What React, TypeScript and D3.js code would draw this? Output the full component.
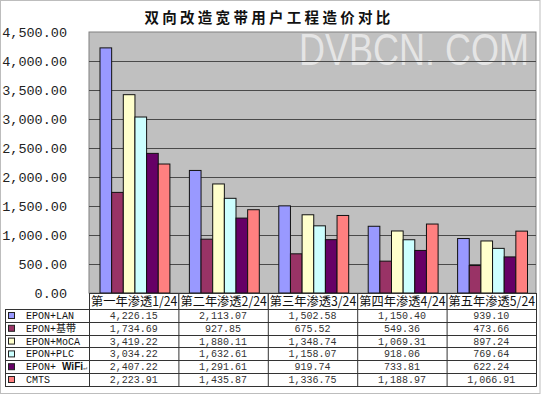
import React, { useEffect, useRef } from "react";
import * as d3 from "d3";

const categories = ["第一年渗透1/24", "第二年渗透2/24", "第三年渗透3/24", "第四年渗透4/24", "第五年渗透5/24"];
const seriesNames = ["EPON+LAN", "EPON+基带", "EPON+MoCA", "EPON+PLC", "EPON+ WiFi", "CMTS"];
const lan = [4226.15, 2113.07, 1502.58, 1150.4, 939.1];
const baseband = [1734.69, 927.85, 675.52, 549.36, 473.66];
const moca = [3419.22, 1880.11, 1348.74, 1069.31, 897.24];
const plc = [3034.22, 1632.61, 1158.07, 918.06, 769.64];
const wifi = [2407.22, 1291.61, 919.74, 733.81, 622.24];
const cmts = [2223.91, 1435.87, 1336.75, 1188.97, 1066.91];
const yTicks = [0, 500, 1000, 1500, 2000, 2500, 3000, 3500, 4000, 4500];
const colors = ["#9999FF", "#993366", "#FFFFCC", "#CCFFFF", "#660066", "#FF8080"];

const series = [lan, baseband, moca, plc, wifi, cmts];

const W = 541;
const H = 394;
const plotLeft = 89;
const plotRight = 536;
const plotTop = 32;
const plotBottom = 293;
const headerBottom = 309;
const rowH = 12.8;
const legendLeft = 5;

const mono = "'Liberation Mono', 'Noto Sans CJK SC', monospace";
const cjk = "'Noto Sans CJK SC', sans-serif";

function App() {
  const ref = useRef<SVGSVGElement>(null);

  useEffect(() => {
    const svg = d3.select(ref.current);
    svg.selectAll("*").remove();

    const x = d3.scaleBand<string>().domain(categories).range([plotLeft, plotRight]).padding(0);
    const inner = d3
      .scaleBand<number>()
      .domain(d3.range(seriesNames.length))
      .range([10.5, x.bandwidth() - 9]);
    const y = d3.scaleLinear().domain([0, 4500]).range([plotBottom, plotTop]);
    const fmt = d3.format(",.2f");

    svg.append("rect").attr("width", W).attr("height", H).attr("fill", "#fff");
    svg
      .append("rect")
      .attr("x", 0.5)
      .attr("y", 0.5)
      .attr("width", W - 1.5)
      .attr("height", H - 1)
      .attr("fill", "none")
      .attr("stroke", "#bdbdbd");

    // title
    svg
      .append("text")
      .text("双向改造宽带用户工程造价对比")
      .attr("x", 269)
      .attr("y", 23)
      .attr("text-anchor", "middle")
      .style("font-family", cjk)
      .style("font-size", "14.5px")
      .style("font-weight", "bold")
      .style("letter-spacing", "3.3px")
      .attr("fill", "#111");

    // plot area
    svg
      .append("rect")
      .attr("x", plotLeft)
      .attr("y", plotTop)
      .attr("width", plotRight - plotLeft)
      .attr("height", plotBottom - plotTop)
      .attr("fill", "#C0C0C0")
      .attr("stroke", "#808080");

    // watermark
    svg
      .append("text")
      .text("DVBCN. COM")
      .attr("x", 299)
      .attr("y", 65)
      .attr("textLength", 230)
      .attr("lengthAdjust", "spacingAndGlyphs")
      .style("font-family", "'Liberation Sans', sans-serif")
      .style("font-size", "44px")
      .attr("fill", "#ffffff")
      .attr("fill-opacity", 0.6);

    // gridlines
    svg
      .append("g")
      .selectAll("line")
      .data(yTicks.filter((t) => t > 0 && t < 4500))
      .join("line")
      .attr("x1", plotLeft)
      .attr("x2", plotRight)
      .attr("y1", (d) => Math.round(y(d)) + 0.5)
      .attr("y2", (d) => Math.round(y(d)) + 0.5)
      .attr("stroke", "#4a4a4a");

    // y labels
    svg
      .append("g")
      .selectAll("text")
      .data(yTicks)
      .join("text")
      .text((d) => fmt(d))
      .attr("x", 67)
      .attr("y", (d) => y(d) + 5)
      .attr("text-anchor", "end")
      .style("font-family", mono)
      .style("font-size", "13.5px")
      .attr("fill", "#222");

    // bars
    const groups = svg
      .append("g")
      .selectAll("g")
      .data(categories)
      .join("g")
      .attr("transform", (c) => `translate(${x(c)},0)`);

    groups
      .selectAll("rect")
      .data((c, ci) => series.map((s, si) => ({ si, v: s[ci] })))
      .join("rect")
      .attr("x", (d) => (inner(d.si) as number) + 0.5)
      .attr("y", (d) => y(d.v))
      .attr("width", inner.bandwidth())
      .attr("height", (d) => plotBottom - y(d.v))
      .attr("fill", (d) => colors[d.si])
      .attr("stroke", "#111")
      .attr("stroke-width", 1);

    // category header boxes
    const header = svg.append("g");
    header
      .selectAll("rect")
      .data(categories)
      .join("rect")
      .attr("x", (c) => (x(c) as number) + 0.5)
      .attr("y", plotBottom + 0.5)
      .attr("width", x.bandwidth())
      .attr("height", headerBottom - plotBottom)
      .attr("fill", "#fff")
      .attr("stroke", "#333");
    header
      .selectAll("text")
      .data(categories)
      .join("text")
      .text((c) => c)
      .attr("x", (c) => (x(c) as number) + x.bandwidth() / 2 + 0.5)
      .attr("y", plotBottom + 12.5)
      .attr("text-anchor", "middle")
      .attr("textLength", x.bandwidth() - 3)
      .attr("lengthAdjust", "spacingAndGlyphs")
      .style("font-family", cjk)
      .style("font-size", "12.5px")
      .attr("fill", "#111");

    // data table
    const table = svg.append("g");
    const tableBottom = headerBottom + rowH * seriesNames.length;
    table
      .selectAll("line.row")
      .data(d3.range(seriesNames.length + 1))
      .join("line")
      .attr("class", "row")
      .attr("x1", legendLeft)
      .attr("x2", plotRight + 0.5)
      .attr("y1", (i) => Math.round(headerBottom + i * rowH) + 0.5)
      .attr("y2", (i) => Math.round(headerBottom + i * rowH) + 0.5)
      .attr("stroke", "#333");
    const colEdges = [legendLeft, ...categories.map((c) => x(c) as number), plotRight];
    table
      .selectAll("line.col")
      .data(colEdges)
      .join("line")
      .attr("class", "col")
      .attr("x1", (d) => d + 0.5)
      .attr("x2", (d) => d + 0.5)
      .attr("y1", headerBottom + 0.5)
      .attr("y2", Math.round(tableBottom) + 0.5)
      .attr("stroke", "#333");

    const rows = table
      .selectAll("g.r")
      .data(seriesNames)
      .join("g")
      .attr("class", "r")
      .attr("transform", (_, i) => `translate(0,${headerBottom + i * rowH})`);

    rows
      .append("rect")
      .attr("x", 8.5)
      .attr("y", 3.5)
      .attr("width", 6)
      .attr("height", 6)
      .attr("fill", (_, i) => colors[i])
      .attr("stroke", "#222");

    rows.each(function (name) {
      const t = d3
        .select(this)
        .append("text")
        .attr("x", 26)
        .attr("y", 10)
        .style("font-family", mono)
        .style("font-size", "10px")
        .attr("fill", "#111");
      if (name.includes("WiFi")) {
        t.append("tspan").text("EPON+ ");
        t.append("tspan").text("WiFi").style("font-weight", "bold").style("font-family", "'Liberation Sans', sans-serif");
        t.append("tspan").text("↵").style("font-size", "7px").attr("fill", "#666");
      } else {
        t.text(name);
      }
    });

    rows
      .selectAll("text.v")
      .data((_, i) => series[i])
      .join("text")
      .attr("class", "v")
      .text((v) => fmt(v))
      .attr("x", (_, ci) => (x(categories[ci]) as number) + x.bandwidth() / 2)
      .attr("y", 10)
      .attr("text-anchor", "middle")
      .style("font-family", mono)
      .style("font-size", "10px")
      .attr("fill", "#333");
  }, []);

  return (
    <svg
      ref={ref}
      width={W}
      height={H}
      style={{ position: "absolute", left: 0, top: 0 }}
    />
  );
}

export default App;
